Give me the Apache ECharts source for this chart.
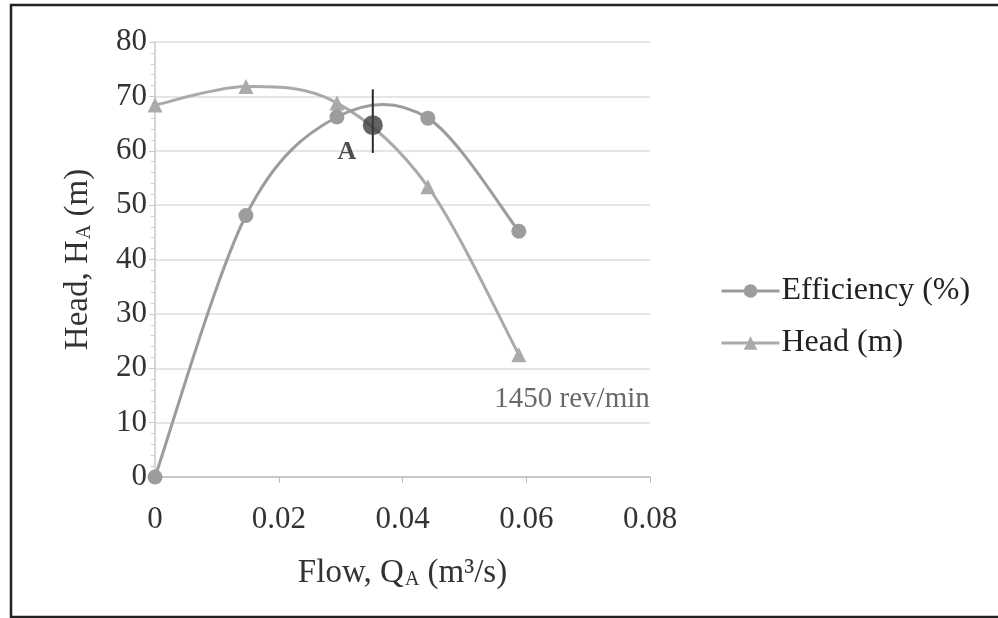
<!DOCTYPE html>
<html>
<head>
<meta charset="utf-8">
<script src="https://cdn.jsdelivr.net/npm/echarts@6/dist/echarts.min.js"></script>
<style>
  html, body { margin: 0; padding: 0; background: #fff; }
  #main { width: 998px; height: 618px; }
</style>
</head>
<body>
<div id="main"></div>
<script>
// flow (m3/s) at the measured points
const flow = [0, 0.0147, 0.0294, 0.0441, 0.0588];
const efficiency = [0, 48.1, 66.2, 66.0, 45.2];
const head = [68.4, 71.8, 68.8, 53.4, 22.5];
// operating point A and its bar
const pointA = [0.0352, 64.7];
const pointABar = [59.6, 71.3];
const speedNote = [0.0674, 14.2];
const xTicks = [0, 0.02, 0.04, 0.06, 0.08];
const yTicks = [0, 10, 20, 30, 40, 50, 60, 70, 80];

const FONT = '"Liberation Serif", "Times New Roman", serif';
const EFF_COLOR = '#9c9c9c';
const HEAD_COLOR = '#aaaaaa';

class PumpChart {
  constructor(el) {
    this.chart = echarts.init(typeof el == "string" ? document.getElementById(el) : el);
  }
  pairs(xs, ys) {
    let out = [];
    for(let i = 0; i < xs.length; i++) {
      out.push([xs[i], ys[i]]);
    }
    return out;
  }
  // spreadsheet-style smoothed line: one bezier per segment, control points from neighbours
  curve(xs, ys, color) {
    return function(params, api) {
      let i = params.dataIndex;
      let n = xs.length;
      if(i >= n - 1) return null;
      let p = k => {
        k = Math.max(0, Math.min(n - 1, k));
        return api.coord([xs[k], ys[k]]);
      };
      let p0 = p(i - 1), p1 = p(i), p2 = p(i + 1), p3 = p(i + 2);
      return {
        type: 'bezierCurve',
        shape: {
          x1: p1[0], y1: p1[1],
          x2: p2[0], y2: p2[1],
          cpx1: p1[0] + (p2[0] - p0[0]) / 6,
          cpy1: p1[1] + (p2[1] - p0[1]) / 6,
          cpx2: p2[0] - (p3[0] - p1[0]) / 6,
          cpy2: p2[1] - (p3[1] - p1[1]) / 6
        },
        style: { stroke: color, lineWidth: 3, fill: 'none' }
      };
    };
  }
  getOption() {
    let sub = { fontFamily: FONT, fontSize: 20, verticalAlign: 'bottom', lineHeight: 20, padding: [0, 0, 0, 1] };
    return {
      backgroundColor: '#fff',
      animation: false,
      textStyle: { fontFamily: FONT },
      graphic: [{
        type: 'rect',
        shape: { x: 11, y: 5, width: 1000, height: 612 },
        style: { fill: 'none', stroke: '#222', lineWidth: 2.5 },
        silent: true
      }],
      grid: { left: 155, right: 348, top: 42, bottom: 141 },
      legend: {
        orient: 'vertical',
        left: 715,
        top: 270,
        itemWidth: 58,
        itemHeight: 17,
        itemGap: 20,
        data: ['Efficiency (%)', 'Head (m)'],
        lineStyle: { width: 3, opacity: 1 },
        textStyle: { fontFamily: FONT, fontSize: 32, color: '#222', padding: [0, 0, 0, -3] }
      },
      xAxis: {
        type: 'value',
        min: xTicks[0],
        max: xTicks[xTicks.length - 1],
        interval: xTicks[1] - xTicks[0],
        name: 'Flow, Q{sub|A} (m³/s)',
        nameLocation: 'middle',
        nameGap: 80,
        nameTextStyle: { fontFamily: FONT, fontSize: 33, color: '#333', rich: { sub: sub } },
        axisLine: { lineStyle: { color: '#bdbdbd', width: 1.5 } },
        axisTick: { show: true, length: 6, lineStyle: { color: '#bdbdbd' } },
        axisLabel: { fontFamily: FONT, fontSize: 31, color: '#333', margin: 27 },
        splitLine: { show: false }
      },
      yAxis: {
        type: 'value',
        min: yTicks[0],
        max: yTicks[yTicks.length - 1],
        interval: yTicks[1] - yTicks[0],
        name: 'Head, H{sub|A} (m)',
        nameLocation: 'middle',
        nameGap: 60,
        nameTextStyle: { fontFamily: FONT, fontSize: 33, color: '#333', rich: { sub: sub } },
        axisLine: { show: true, lineStyle: { color: '#c8c8c8', width: 1.5 } },
        axisTick: { show: true, length: 6, lineStyle: { color: '#c8c8c8' } },
        minorTick: { show: true, splitNumber: 5, length: 4, lineStyle: { color: '#cfcfcf' } },
        axisLabel: { fontFamily: FONT, fontSize: 31, color: '#333', margin: 8 },
        splitLine: { lineStyle: { color: '#dcdcdc', width: 1.5 } }
      },
      series: [{
        name: 'Head curve',
        type: 'custom',
        z: 1,
        renderItem: this.curve(flow, head, HEAD_COLOR),
        data: this.pairs(flow, head)
      }, {
        name: 'Efficiency curve',
        type: 'custom',
        z: 1,
        renderItem: this.curve(flow, efficiency, EFF_COLOR),
        data: this.pairs(flow, efficiency)
      }, {
        name: 'Head (m)',
        type: 'line',
        z: 3,
        symbol: 'triangle',
        symbolSize: 15,
        itemStyle: { color: HEAD_COLOR },
        lineStyle: { color: HEAD_COLOR, width: 0, opacity: 0 },
        data: this.pairs(flow, head)
      }, {
        name: 'Efficiency (%)',
        type: 'line',
        z: 3,
        symbol: 'circle',
        symbolSize: 15,
        itemStyle: { color: EFF_COLOR },
        lineStyle: { color: EFF_COLOR, width: 0, opacity: 0 },
        data: this.pairs(flow, efficiency)
      }, {
        name: 'A bar',
        type: 'line',
        symbol: 'none',
        lineStyle: { color: '#2a2a2a', width: 2 },
        z: 5,
        data: [[pointA[0], pointABar[0]], [pointA[0], pointABar[1]]]
      }, {
        name: 'A',
        type: 'scatter',
        symbolSize: 20,
        z: 6,
        itemStyle: { color: '#3c3c3c' },
        label: {
          show: true,
          formatter: 'A',
          position: 'inside',
          offset: [-26, 27],
          fontFamily: FONT,
          fontSize: 26,
          fontWeight: 'bold',
          color: '#222'
        },
        data: [pointA]
      }, {
        name: 'note',
        type: 'scatter',
        symbolSize: 0,
        label: {
          show: true,
          formatter: '1450 rev/min',
          position: 'inside',
          fontFamily: FONT,
          fontSize: 29,
          color: '#444'
        },
        data: [speedNote]
      }]
    };
  }
  load() {
    this.chart.setOption(this.getOption());
  }
}

new PumpChart('main').load();
</script>
</body>
</html>
